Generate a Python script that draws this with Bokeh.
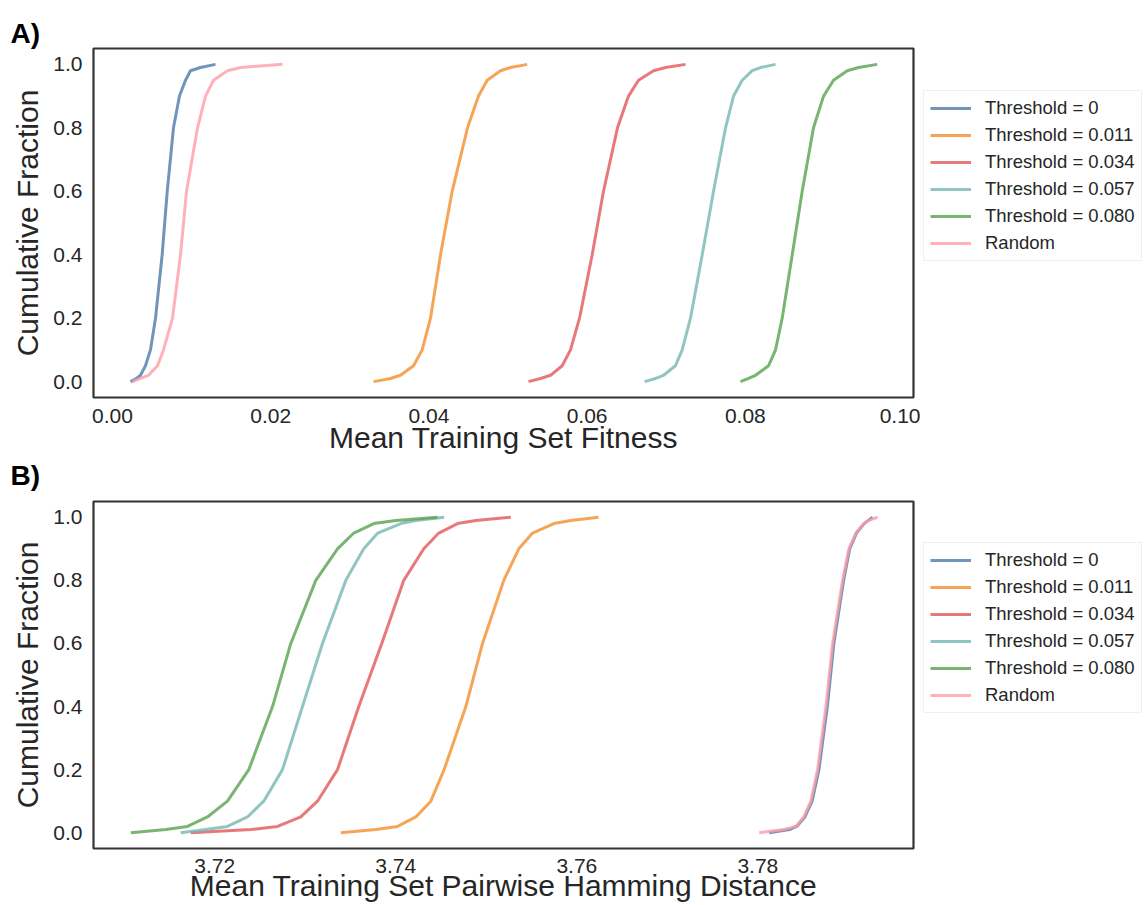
from bokeh.plotting import figure
from bokeh.layouts import column, row
from bokeh.models import (Range1d, FixedTicker, PrintfTickFormatter, Legend,
                          LegendItem, Title)
from bokeh.embed import file_html
from bokeh.resources import INLINE

# ---------------- data ----------------
cum_fraction = [0.0, 0.01, 0.02, 0.05, 0.1, 0.2, 0.4, 0.6, 0.8, 0.9, 0.95, 0.98, 0.99, 1.0]

series_names = ["Threshold = 0", "Threshold = 0.011", "Threshold = 0.034",
                "Threshold = 0.057", "Threshold = 0.080", "Random"]
series_colors = ["#4E79A7", "#F28E2B", "#E15759", "#76B7B2", "#59A14F", "#FF9DA7"]

# Panel A: mean training set fitness (x value at each cumulative fraction)
fit_thr_0 = [0.00228, 0.00303, 0.00354, 0.00417, 0.00480, 0.00544, 0.00628, 0.00692,
             0.00771, 0.00847, 0.00923, 0.00986, 0.01112, 0.01302]
fit_thr_0011 = [0.03300, 0.03515, 0.03641, 0.03805, 0.03915, 0.04020, 0.04147, 0.04294,
                0.04488, 0.04627, 0.04737, 0.04905, 0.05031, 0.05243]
fit_thr_0034 = [0.05259, 0.05411, 0.05537, 0.05685, 0.05790, 0.05904, 0.06064, 0.06207,
                0.06384, 0.06523, 0.06650, 0.06839, 0.06991, 0.07244]
fit_thr_0057 = [0.06726, 0.06865, 0.06966, 0.07117, 0.07202, 0.07307, 0.07455, 0.07598,
                0.07750, 0.07851, 0.07961, 0.08087, 0.08192, 0.08382]
fit_thr_0080 = [0.07939, 0.08040, 0.08129, 0.08293, 0.08382, 0.08466, 0.08593, 0.08719,
                0.08862, 0.08989, 0.09115, 0.09288, 0.09431, 0.09667]
fit_random = [0.00253, 0.00354, 0.00455, 0.00569, 0.00645, 0.00759, 0.00860, 0.00936,
              0.01075, 0.01176, 0.01277, 0.01454, 0.01618, 0.02149]

# Panel B: mean training set pairwise Hamming distance
ham_thr_0 = [3.78125, 3.78350, 3.78430, 3.78520, 3.78600, 3.78675, 3.78768, 3.78840,
             3.78948, 3.79015, 3.79090, 3.79175, 3.79220, 3.79268]
ham_thr_0011 = [3.73392, 3.73779, 3.74019, 3.74221, 3.74387, 3.74534, 3.74774, 3.74958,
                3.75193, 3.75359, 3.75511, 3.75746, 3.75934, 3.76240]
ham_thr_0034 = [3.71735, 3.72398, 3.72693, 3.72950, 3.73135, 3.73356, 3.73591, 3.73845,
                3.74088, 3.74309, 3.74475, 3.74682, 3.74884, 3.75271]
ham_thr_0057 = [3.71624, 3.71900, 3.72140, 3.72361, 3.72541, 3.72748, 3.72969, 3.73190,
                3.73448, 3.73646, 3.73801, 3.74055, 3.74221, 3.74534]
ham_thr_0080 = [3.71072, 3.71459, 3.71698, 3.71919, 3.72140, 3.72376, 3.72638, 3.72840,
                3.73116, 3.73356, 3.73536, 3.73757, 3.74000, 3.74461]
ham_random = [3.78015, 3.78287, 3.78420, 3.78508, 3.78586, 3.78660, 3.78752, 3.78826,
              3.78936, 3.79006, 3.79083, 3.79171, 3.79226, 3.79323]

fit_series = [fit_thr_0, fit_thr_0011, fit_thr_0034, fit_thr_0057, fit_thr_0080, fit_random]
ham_series = [ham_thr_0, ham_thr_0011, ham_thr_0034, ham_thr_0057, ham_thr_0080, ham_random]

y_ticks = [0.0, 0.2, 0.4, 0.6, 0.8, 1.0]
fit_ticks = [0.0, 0.02, 0.04, 0.06, 0.08, 0.10]
ham_ticks = [3.72, 3.74, 3.76, 3.78]

FONT = "Liberation Sans"
TXT = "#262626"
MAIN_W = 920
LEG_W = 1147 - MAIN_W


def make_panel(height, top, bottom, xr, xticks, xlabel, series, tag, spacer_px,
               tick_standoff, label_standoff, legend_y):
    p = figure(width=MAIN_W, height=height, output_backend="svg", toolbar_location=None,
               x_range=xr, y_range=Range1d(-0.05, 1.05), title=None,
               min_border_left=93, min_border_right=MAIN_W - 913,
               min_border_top=top, min_border_bottom=bottom)
    if spacer_px:
        p.add_layout(Title(text=" ", text_font_size=f"{spacer_px}px", standoff=0,
                           text_color="white"), "above")
    p.add_layout(Title(text=tag, align="left", offset=-83, standoff=0,
                       text_font=FONT, text_font_size="28px", text_font_style="bold",
                       text_color="black"), "above")
    p.background_fill_color = "white"
    p.border_fill_color = "white"
    p.outline_line_color = "#333333"
    p.outline_line_width = 2.2
    p.xgrid.visible = False
    p.ygrid.visible = False
    for ax in (p.xaxis[0], p.yaxis[0]):
        ax.axis_line_color = None
        ax.major_tick_line_color = None
        ax.minor_tick_line_color = None
        ax.major_label_text_font = FONT
        ax.major_label_text_font_size = "21px"
        ax.major_label_text_color = TXT
        ax.axis_label_text_font = FONT
        ax.axis_label_text_font_size = "30px"
        ax.axis_label_text_font_style = "normal"
        ax.axis_label_text_color = TXT
    p.xaxis.major_label_standoff = tick_standoff
    p.yaxis.major_label_standoff = 5
    p.xaxis.ticker = FixedTicker(ticks=xticks)
    p.xaxis.formatter = PrintfTickFormatter(format="%.2f")
    p.yaxis.ticker = FixedTicker(ticks=y_ticks)
    p.yaxis.formatter = PrintfTickFormatter(format="%.1f")
    p.xaxis.axis_label = xlabel
    p.yaxis.axis_label = "Cumulative Fraction"
    p.xaxis.axis_label_standoff = label_standoff
    p.yaxis.axis_label_standoff = 6

    for color, xs in zip(series_colors, series):
        p.line(xs, cum_fraction, line_color=color, line_width=3, line_alpha=0.8)

    # legend lives in a narrow companion figure to the right of the frame;
    # its line renderers hold the same series but lie outside its view
    lf = figure(width=LEG_W, height=height, output_backend="svg", toolbar_location=None,
                x_axis_type=None, y_axis_type=None, min_border=0, title=None,
                x_range=Range1d(10, 11), y_range=Range1d(10, 11),
                outline_line_color=None)
    lf.grid.visible = False
    lf.background_fill_color = "white"
    lf.border_fill_color = "white"
    items = []
    for name, color, xs in zip(series_names, series_colors, series):
        r = lf.line(xs, cum_fraction, line_color=color, line_width=3, line_alpha=0.8)
        items.append(LegendItem(label=name, renderers=[r]))
    legend = Legend(items=items, location=(3, legend_y),
                    label_text_font=FONT, label_text_font_size="18.5px",
                    label_text_color=TXT,
                    glyph_width=41, glyph_height=20, label_height=20,
                    label_standoff=14, spacing=5, padding=6, margin=0,
                    border_line_color="#e2e2e2", border_line_width=1,
                    background_fill_color="white", background_fill_alpha=1.0)
    lf.add_layout(legend, "center")
    return row(p, lf, spacing=0)


r1 = make_panel(457, 48, 60, Range1d(-0.0024, 0.10126), fit_ticks,
                "Mean Training Set Fitness", fit_series, "A)", 0, 5, -5, 136)
r2 = make_panel(448, 43, 57, Range1d(3.7066, 3.7972), ham_ticks,
                "Mean Training Set Pairwise Hamming Distance", ham_series, "B)", 8,
                4, -7, 135)

layout = column(r1, r2, spacing=0)
open("out.html", "w").write(file_html(layout, INLINE))
